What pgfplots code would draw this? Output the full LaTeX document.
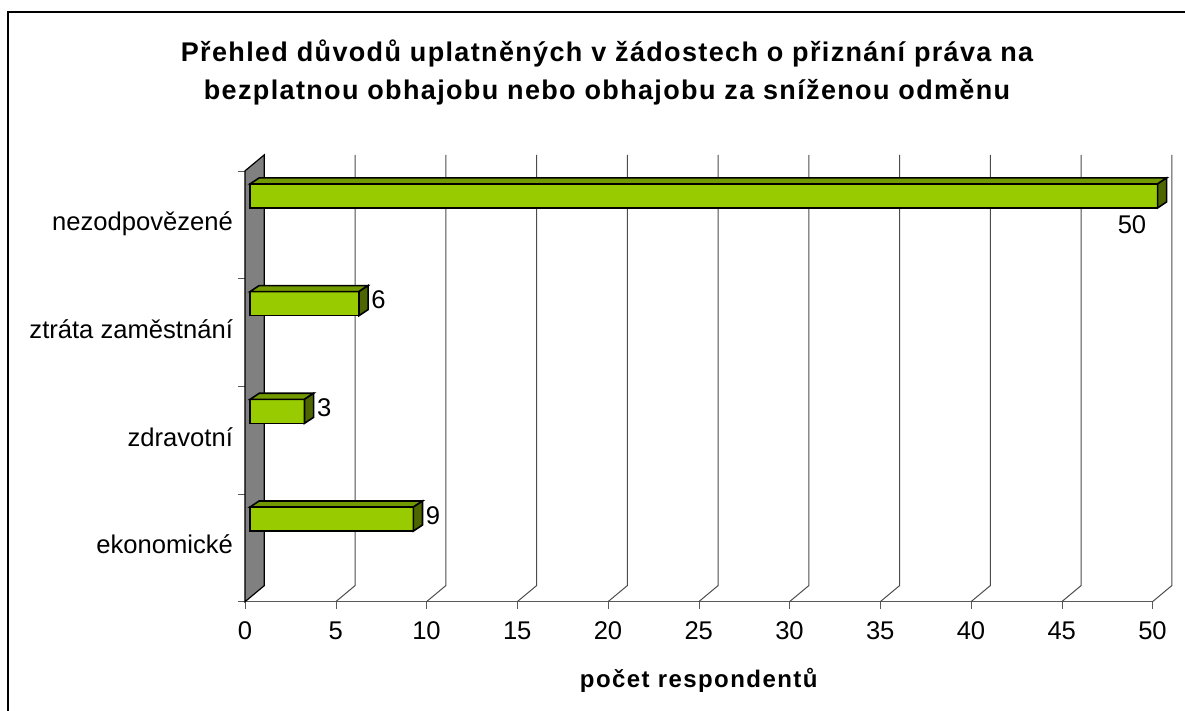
\documentclass[border=0pt]{standalone}
\usepackage{pgfplots}
\pgfplotsset{compat=1.18}
\usepackage{fontspec}
\setmainfont{Liberation Sans}
\definecolor{barfront}{HTML}{99CC00}
\definecolor{bartop}{HTML}{739900}
\definecolor{barside}{HTML}{4D6600}
\definecolor{wall}{HTML}{808080}
\begin{document}
\begin{tikzpicture}
\useasboundingbox (-122.5pt,-54.65pt) rectangle (470pt,300.85pt);
% frame (top and left edges visible)
\draw[line width=1pt] (-118.5pt,-60pt) -- (-118.5pt,294.85pt) -- (475pt,294.85pt);
% title
\node[anchor=base, font=\bfseries\fontsize{13.5}{16}\selectfont\addfontfeatures{LetterSpace=5}] at (181pt,270pt) {Přehled důvodů uplatněných v žádostech o přiznání práva na};
\node[anchor=base, font=\bfseries\fontsize{13.5}{16}\selectfont\addfontfeatures{LetterSpace=5}] at (181pt,250.85pt) {bezplatnou obhajobu nebo obhajobu za sníženou odměnu};
\begin{axis}[
  at={(0pt,0pt)}, anchor=origin,
  x=9.075pt, y=53.85pt,
  xmin=0, xmax=50, ymin=0, ymax=4,
  enlargelimits=false,
  clip=false,
  axis x line*=bottom, axis y line*=left,
  x axis line style={black!65, -},
  y axis line style={black, -},
  xtick={0,5,...,50},
  ytick={0,1,2,3,4}, yticklabels={},
  extra y ticks={0.5,1.5,2.5,3.5},
  extra y tick labels={ekonomické,zdravotní,ztráta zaměstnání,nezodpovězené},
  extra y tick style={major tick length=0pt, yticklabel style={xshift=-2.5pt}},
  tick align=outside,
  major tick length=3.5pt,
  xtick style={black!65},
  ytick style={black!65},
  /pgf/number format/assume math mode=true,
  typeset ticklabels with strut,
  ticklabel style={font=\fontsize{12.8}{15}\selectfont},
  xticklabel style={yshift=-1.5pt},
]
% gridlines (back wall + floor diagonals)
\pgfplotsinvokeforeach{5,10,15,20,25,30,35,40,45,50}{
  \draw[black!70, line width=0.5pt] (axis cs:#1,0) -- (axis cs:#1+1.063,0.149) -- (axis cs:#1+1.063,4.149);
}
% side wall
\addplot[fill=wall, draw=black, line width=0.6pt] coordinates {(0,0) (0,4) (1.063,4.149) (1.063,0.149)} -- cycle;
% ---- bars: ekonomické = 9
\addplot[fill=barfront, draw=black, line width=0.8pt] coordinates {(0.28,0.656) (9.28,0.656) (9.28,0.879) (0.28,0.879)} -- cycle;
\addplot[fill=bartop, draw=black, line width=0.8pt] coordinates {(0.28,0.879) (9.28,0.879) (9.78,0.935) (0.78,0.935)} -- cycle;
\addplot[fill=barside, draw=black, line width=0.8pt] coordinates {(9.28,0.656) (9.78,0.712) (9.78,0.935) (9.28,0.879)} -- cycle;
% ---- zdravotní = 3
\addplot[fill=barfront, draw=black, line width=0.8pt] coordinates {(0.28,1.656) (3.28,1.656) (3.28,1.879) (0.28,1.879)} -- cycle;
\addplot[fill=bartop, draw=black, line width=0.8pt] coordinates {(0.28,1.879) (3.28,1.879) (3.78,1.935) (0.78,1.935)} -- cycle;
\addplot[fill=barside, draw=black, line width=0.8pt] coordinates {(3.28,1.656) (3.78,1.712) (3.78,1.935) (3.28,1.879)} -- cycle;
% ---- ztráta zaměstnání = 6
\addplot[fill=barfront, draw=black, line width=0.8pt] coordinates {(0.28,2.656) (6.28,2.656) (6.28,2.879) (0.28,2.879)} -- cycle;
\addplot[fill=bartop, draw=black, line width=0.8pt] coordinates {(0.28,2.879) (6.28,2.879) (6.78,2.935) (0.78,2.935)} -- cycle;
\addplot[fill=barside, draw=black, line width=0.8pt] coordinates {(6.28,2.656) (6.78,2.712) (6.78,2.935) (6.28,2.879)} -- cycle;
% ---- nezodpovězené = 50
\addplot[fill=barfront, draw=black, line width=0.8pt] coordinates {(0.28,3.656) (50.28,3.656) (50.28,3.879) (0.28,3.879)} -- cycle;
\addplot[fill=bartop, draw=black, line width=0.8pt] coordinates {(0.28,3.879) (50.28,3.879) (50.78,3.935) (0.78,3.935)} -- cycle;
\addplot[fill=barside, draw=black, line width=0.8pt] coordinates {(50.28,3.656) (50.78,3.712) (50.78,3.935) (50.28,3.879)} -- cycle;
% value labels
\node[anchor=west, inner sep=1.5pt, font=\fontsize{12.8}{15}\selectfont] at (axis cs:9.78,0.80) {9};
\node[anchor=west, inner sep=1.5pt, font=\fontsize{12.8}{15}\selectfont] at (axis cs:3.78,1.80) {3};
\node[anchor=west, inner sep=1.5pt, font=\fontsize{12.8}{15}\selectfont] at (axis cs:6.78,2.80) {6};
\node[font=\fontsize{12.8}{15}\selectfont] at (axis cs:48.87,3.502) {50};
% axis title
\node[anchor=base, font=\bfseries\fontsize{12}{14}\selectfont\addfontfeatures{LetterSpace=6}] at (axis cs:25,-0.801) {počet respondentů};
\end{axis}
\end{tikzpicture}
\end{document}
